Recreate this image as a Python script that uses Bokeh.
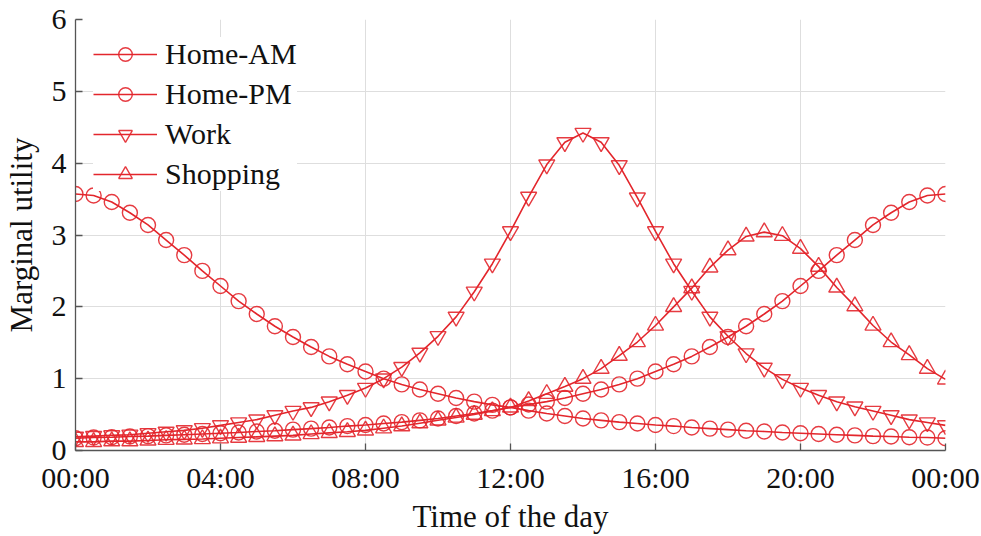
from bokeh.plotting import figure
from bokeh.models import Legend, LegendItem, FixedTicker, Range1d
from bokeh.embed import file_html
from bokeh.resources import INLINE

hours = [i * 0.5 for i in range(49)]
x_ticks = [0, 4, 8, 12, 16, 20, 24]
x_tick_labels = ["00:00", "04:00", "08:00", "12:00", "16:00", "20:00", "00:00"]
y_ticks = [0, 1, 2, 3, 4, 5, 6]

home_am = [3.57, 3.55, 3.46, 3.31, 3.14, 2.93, 2.72, 2.50, 2.29, 2.08,
           1.90, 1.73, 1.58, 1.44, 1.31, 1.20, 1.10, 1.00, 0.92, 0.85,
           0.79, 0.73, 0.68, 0.635, 0.60, 0.555, 0.515, 0.48, 0.445, 0.42,
           0.395, 0.375, 0.355, 0.34, 0.32, 0.305, 0.29, 0.275, 0.265, 0.25,
           0.24, 0.23, 0.22, 0.21, 0.20, 0.195, 0.185, 0.18, 0.17]
home_pm = [0.17, 0.18, 0.185, 0.195, 0.20, 0.21, 0.22, 0.23, 0.24, 0.25,
           0.265, 0.275, 0.29, 0.305, 0.32, 0.34, 0.355, 0.375, 0.395, 0.42,
           0.445, 0.48, 0.515, 0.555, 0.60, 0.64, 0.68, 0.73, 0.79, 0.85,
           0.92, 1.00, 1.10, 1.20, 1.31, 1.44, 1.58, 1.73, 1.90, 2.08,
           2.29, 2.50, 2.72, 2.93, 3.14, 3.31, 3.46, 3.55, 3.57]
work = [0.19, 0.20, 0.21, 0.22, 0.24, 0.26, 0.28, 0.31, 0.35, 0.39,
        0.43, 0.49, 0.55, 0.60, 0.68, 0.77, 0.87, 1.00, 1.16, 1.36,
        1.59, 1.86, 2.21, 2.60, 3.05, 3.53, 3.98, 4.29, 4.42, 4.29,
        3.97, 3.52, 3.05, 2.60, 2.22, 1.86, 1.59, 1.35, 1.15, 0.99,
        0.87, 0.77, 0.68, 0.61, 0.55, 0.49, 0.43, 0.39, 0.35]
shopping = [0.12, 0.12, 0.13, 0.13, 0.14, 0.15, 0.155, 0.16, 0.17, 0.18,
            0.19, 0.20, 0.21, 0.23, 0.245, 0.26, 0.28, 0.31, 0.34, 0.38,
            0.42, 0.46, 0.50, 0.55, 0.60, 0.69, 0.79, 0.89, 1.00, 1.14,
            1.32, 1.51, 1.74, 2.00, 2.26, 2.55, 2.79, 2.98, 3.04, 2.99,
            2.81, 2.56, 2.27, 2.01, 1.74, 1.51, 1.33, 1.14, 0.99]

series = [
    ("Home-AM", home_am, "circle", 15),
    ("Home-PM", home_pm, "circle", 15),
    ("Work", work, "inverted_triangle", 16),
    ("Shopping", shopping, "triangle", 16),
]

RED = "#e3262c"
FONT = "Liberation Serif"

p = figure(width=981, height=536, output_backend="svg", toolbar_location=None,
           x_range=Range1d(0, 24), y_range=Range1d(0, 6),
           min_border_left=74, min_border_right=36, min_border_top=19,
           min_border_bottom=81)
p.outline_line_color = None
p.background_fill_color = "white"
p.border_fill_color = "white"

items = []
for name, vals, marker, size in series:
    ln = p.line(hours, vals, line_color=RED, line_width=1.6)
    sc = p.scatter(hours, vals, marker=marker, size=size, line_color=RED,
                   line_width=1.4, fill_alpha=0, line_alpha=0.9)
    items.append(LegendItem(label=name, renderers=[ln, sc]))

legend = Legend(items=items, location="top_left")
legend.label_text_font = FONT
legend.label_text_font_size = "30px"
legend.label_text_color = "#111111"
legend.glyph_width = 64
legend.glyph_height = 34
legend.label_height = 34
legend.spacing = 6
legend.label_standoff = 8
legend.margin = 18
legend.padding = 14
legend.border_line_color = None
legend.background_fill_color = "white"
legend.background_fill_alpha = 1.0
p.add_layout(legend)

for ax in (p.xaxis[0], p.yaxis[0]):
    ax.axis_line_color = "#555555"
    ax.axis_line_width = 1.3
    ax.major_tick_line_color = "#555555"
    ax.major_tick_line_width = 1.3
    ax.major_tick_in = 7
    ax.major_tick_out = 0
    ax.minor_tick_line_color = None
    ax.major_label_text_font = FONT
    ax.major_label_text_font_size = "30px"
    ax.major_label_text_color = "#111111"
    ax.axis_label_text_font = FONT
    ax.axis_label_text_font_size = "31px"
    ax.axis_label_text_font_style = "normal"
    ax.axis_label_text_color = "#111111"

p.xaxis[0].ticker = FixedTicker(ticks=x_ticks)
p.xaxis[0].major_label_overrides = {t: l for t, l in zip(x_ticks, x_tick_labels)}
p.xaxis[0].axis_label = "Time of the day"
p.xaxis[0].major_label_standoff = 10
p.xaxis[0].axis_label_standoff = 2

p.yaxis[0].ticker = FixedTicker(ticks=y_ticks)
p.yaxis[0].axis_label = "Marginal utility"
p.yaxis[0].major_label_standoff = 9
p.yaxis[0].axis_label_standoff = 10

p.xgrid.ticker = FixedTicker(ticks=x_ticks)
p.ygrid.ticker = FixedTicker(ticks=y_ticks)
for g in (p.xgrid[0], p.ygrid[0]):
    g.grid_line_color = "#dedede"
    g.grid_line_width = 1

open("out.html", "w").write(file_html(p, INLINE))
